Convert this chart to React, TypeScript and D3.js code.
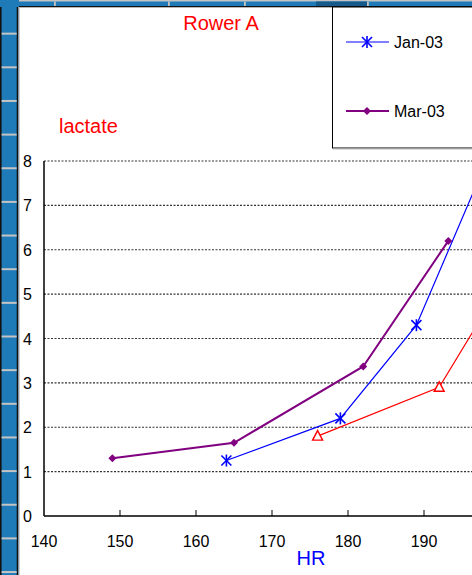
import React from "react";
import * as d3 from "d3";

// Heart rate (x) vs blood lactate (y) for each test session
const janHR = [164, 179, 189, 198];
const janLactate = [1.25, 2.2, 4.3, 7.9];
const marHR = [149, 165, 182, 193.2];
const marLactate = [1.3, 1.65, 3.37, 6.2];
const thirdHR = [176, 192, 198];
const thirdLactate = [1.8, 2.9, 4.6];

const xTicks = [140, 150, 160, 170, 180, 190];
const yTicks = [0, 1, 2, 3, 4, 5, 6, 7, 8];

const legendNames = ["Jan-03", "Mar-03"];

const W = 472;
const H = 575;
const FONT = "'Liberation Sans', Arial, sans-serif";
const STRIP = "#1f7bb8";

export default function App() {
  const x = d3.scaleLinear().domain([140, 200]).range([44, 500]);
  const y = d3.scaleLinear().domain([0, 8]).range([516, 161]);

  const line = d3
    .line<[number, number]>()
    .x((d) => x(d[0]))
    .y((d) => y(d[1]));

  const jan: [number, number][] = janHR.map((h, i) => [h, janLactate[i]]);
  const mar: [number, number][] = marHR.map((h, i) => [h, marLactate[i]]);
  const third: [number, number][] = thirdHR.map((h, i) => [h, thirdLactate[i]]);

  const star = (cx: number, cy: number, key: string | number, r = 5) => (
    <g key={key} stroke="#0000ff" strokeWidth={1.6}>
      <line x1={cx - r} y1={cy - r} x2={cx + r} y2={cy + r} />
      <line x1={cx - r} y1={cy + r} x2={cx + r} y2={cy - r} />
      <line x1={cx} y1={cy - r - 1} x2={cx} y2={cy + r + 1} />
    </g>
  );
  const diamond = (cx: number, cy: number, key: string | number, r = 4) => (
    <path
      key={key}
      d={`M${cx},${cy - r}L${cx + r},${cy}L${cx},${cy + r}L${cx - r},${cy}Z`}
      fill="#800080"
    />
  );
  const triangle = (cx: number, cy: number, key: string | number) => (
    <path
      key={key}
      d={`M${cx},${cy - 5.5}L${cx + 5},${cy + 4}L${cx - 5},${cy + 4}Z`}
      fill="white"
      stroke="#ff0000"
      strokeWidth={1.4}
    />
  );

  // spreadsheet row separators along the left strip
  const rowLines = d3.range(1, 18).map((k) => k * 33.65);
  const colLines = [54, 168, 244, 367];

  return (
    <svg
      width={W}
      height={H}
      style={{ position: "absolute", left: 0, top: 0, background: "white" }}
      fontFamily={FONT}
    >
      {/* top strip */}
      <rect x={0} y={0} width={W} height={7} fill={STRIP} />
      <rect x={0} y={0} width={W} height={1.5} fill="#c4c4c4" />
      <rect x={316} y={1.5} width={51} height={4.5} fill="#155a8a" />
      <rect x={0} y={6} width={W} height={1.3} fill="#111" />
      {colLines.map((cx) => (
        <rect key={cx} x={cx} y={1.5} width={1.8} height={4.5} fill="#c4c4c4" />
      ))}

      {/* left strip */}
      <rect x={0} y={0} width={19} height={H} fill={STRIP} />
      <rect x={0} y={7} width={1.6} height={H} fill="#111" />
      <rect x={16.7} y={7} width={1.7} height={H} fill="#111" />
      <rect x={18.4} y={7} width={1.4} height={H} fill="#c4c4c4" />
      {rowLines.map((ry) => (
        <rect key={ry} x={1.6} y={ry - 1} width={15.1} height={2} fill="#c4c4c4" />
      ))}

      {/* gridlines */}
      {yTicks.slice(1).map((t) => (
        <line
          key={t}
          x1={x(140)}
          x2={W}
          y1={y(t)}
          y2={y(t)}
          stroke="#333"
          strokeWidth={1.2}
          strokeDasharray="2 1.5"
        />
      ))}

      {/* axes */}
      <line x1={x(140)} x2={x(140)} y1={y(8)} y2={y(0)} stroke="#000" strokeWidth={1.5} />
      <line x1={x(140)} x2={W} y1={y(0)} y2={y(0)} stroke="#000" strokeWidth={1.5} />
      {xTicks.slice(1).map((t) => (
        <line key={t} x1={x(t)} x2={x(t)} y1={y(0)} y2={y(0) - 6} stroke="#000" strokeWidth={1} />
      ))}
      {xTicks.map((t) => (
        <text key={t} x={x(t)} y={547} fontSize={16} textAnchor="middle" fill="#000">
          {t}
        </text>
      ))}
      {yTicks.map((t) => (
        <text key={t} x={32} y={y(t) + 6} fontSize={16} textAnchor="end" fill="#000">
          {t}
        </text>
      ))}

      {/* series */}
      <path d={line(third) || ""} fill="none" stroke="#ff0000" strokeWidth={1.2} />
      <path d={line(jan) || ""} fill="none" stroke="#0000ff" strokeWidth={1.2} />
      <path d={line(mar) || ""} fill="none" stroke="#800080" strokeWidth={2} />
      {third.map((d, i) => triangle(x(d[0]), y(d[1]), "t" + i))}
      {jan.map((d, i) => star(x(d[0]), y(d[1]), "j" + i))}
      {mar.map((d, i) => diamond(x(d[0]), y(d[1]), "m" + i))}

      {/* titles */}
      <text x={221} y={30} fontSize={20} textAnchor="middle" fill="#ff0000">
        Rower A
      </text>
      <text x={59} y={133} fontSize={20} fill="#ff0000">
        lactate
      </text>
      <text x={311} y={565} fontSize={20} textAnchor="middle" fill="#0000ff">
        HR
      </text>

      {/* legend */}
      <rect x={332.5} y={7} width={W} height={141} fill="white" stroke="#000" strokeWidth={1} />
      <line x1={333} x2={W} y1={149} y2={149} stroke="#bbb" strokeWidth={1} />
      <line x1={346} x2={389} y1={42} y2={42} stroke="#0000ff" strokeWidth={1.2} />
      {star(367, 42, "lj")}
      <text x={394} y={48} fontSize={16} fill="#000">
        {legendNames[0]}
      </text>
      <line x1={346} x2={389} y1={111} y2={111} stroke="#800080" strokeWidth={2} />
      {diamond(367, 111, "lm")}
      <text x={394} y={117} fontSize={16} fill="#000">
        {legendNames[1]}
      </text>
    </svg>
  );
}
